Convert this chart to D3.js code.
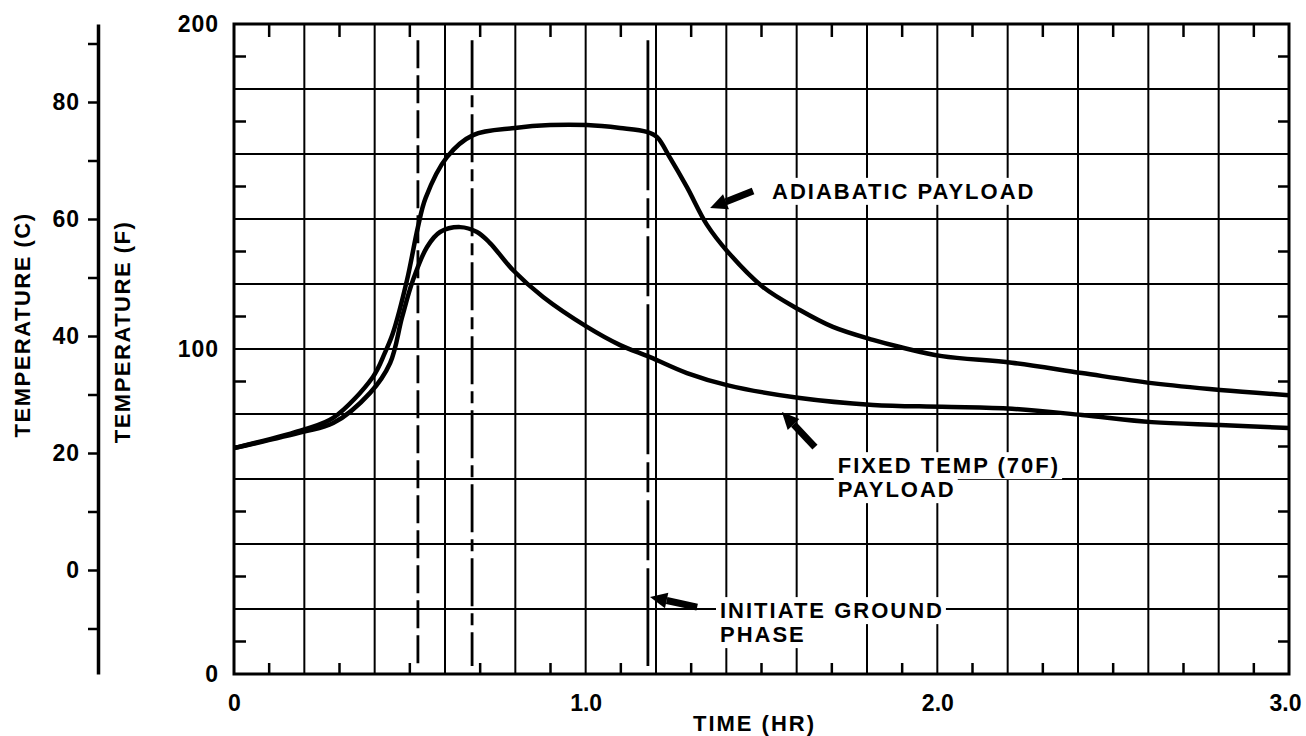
<!DOCTYPE html>
<html>
<head>
<meta charset="utf-8">
<script src="https://cdn.jsdelivr.net/npm/d3@7"></script>
<style>
  body { margin: 0; background: #fff; }
  text { font-family: "Liberation Sans", Arial, sans-serif; font-weight: bold; fill: #000; }
</style>
</head>
<body>
<svg id="chart" width="1306" height="736"></svg>
<script>
// time in hours, temperature in F
const adiabaticTime = [0, 0.2, 0.282, 0.395, 0.429, 0.452, 0.492, 0.523, 0.545, 0.606, 0.68, 0.799, 0.899, 1.004, 1.098, 1.174, 1.203, 1.24, 1.288, 1.345, 1.405, 1.504, 1.609, 1.703, 1.817, 1.894, 2.013, 2.212, 2.411, 2.61, 2.804, 3.0];
const adiabaticTemp = [69.5, 75.3, 78.8, 91.4, 98.8, 104.9, 121.2, 137.5, 146.5, 159.1, 165.8, 168.0, 168.9, 168.9, 168.0, 166.8, 165.2, 158.8, 149.8, 138.2, 129.8, 119.1, 112.0, 106.8, 102.8, 100.6, 97.8, 95.8, 92.6, 89.5, 87.4, 85.8];

const fixedTime = [0, 0.196, 0.282, 0.387, 0.444, 0.478, 0.509, 0.549, 0.586, 0.643, 0.691, 0.728, 0.793, 0.879, 1.004, 1.098, 1.183, 1.288, 1.402, 1.609, 1.817, 2.013, 2.212, 2.411, 2.61, 2.804, 3.0];
const fixedTemp = [69.5, 74.5, 77.2, 86.5, 95.7, 109.8, 121.2, 131.4, 136.0, 137.5, 136.0, 132.6, 124.3, 116.0, 106.8, 101.2, 97.5, 92.6, 88.9, 84.9, 82.8, 82.2, 81.6, 79.7, 77.5, 76.6, 75.7];

// phase markers (hr)
const eventTimes = [0.523, 0.677, 1.177];

const xTickValues = [0, 1, 2, 3];
const xTickLabels = ["0", "1.0", "2.0", "3.0"];
const fTickValues = [0, 100, 200];
const cTickValues = [0, 20, 40, 60, 80];

const svg = d3.select("#chart");
const x = d3.scaleLinear().domain([0, 3]).range([234, 1289]);
const y = d3.scaleLinear().domain([0, 200]).range([674, 24]);
const toC = f => (f - 32) * 5 / 9;
const yc = d3.scaleLinear().domain([toC(0), toC(200)]).range([674, 24]);

// grid
const grid = svg.append("g").attr("stroke", "#000").attr("stroke-width", 2);
grid.selectAll(".vg").data(d3.range(1, 15).map(i => i * 0.2)).join("line")
  .attr("x1", d => x(d)).attr("x2", d => x(d))
  .attr("y1", y(200)).attr("y2", y(0));
grid.selectAll(".hg").data(d3.range(1, 10).map(i => i * 20)).join("line")
  .attr("y1", d => y(d)).attr("y2", d => y(d))
  .attr("x1", x(0)).attr("x2", x(3));

// minor ticks on the frame edges
const halfHours = d3.range(0, 15).map(i => i * 0.2 + 0.1);
const halfTemps = d3.range(0, 10).map(i => i * 20 + 10);
const minor = svg.append("g").attr("stroke", "#000").attr("stroke-width", 2.5);
halfHours.forEach(t => {
  minor.append("line").attr("x1", x(t)).attr("x2", x(t)).attr("y1", y(200)).attr("y2", y(200) + 13);
  minor.append("line").attr("x1", x(t)).attr("x2", x(t)).attr("y1", y(0)).attr("y2", y(0) - 11);
});
halfTemps.forEach(f => {
  minor.append("line").attr("y1", y(f)).attr("y2", y(f)).attr("x1", x(0)).attr("x2", x(0) + 12);
  minor.append("line").attr("y1", y(f)).attr("y2", y(f)).attr("x1", x(3)).attr("x2", x(3) - 11);
});

// frame
svg.append("rect")
  .attr("x", x(0)).attr("y", y(200))
  .attr("width", x(3) - x(0)).attr("height", y(0) - y(200))
  .attr("fill", "none").attr("stroke", "#000").attr("stroke-width", 3);

// phase markers
const dashes = ["28,7", "48,7,12,7", "150,8,30,8,60,8"];
svg.append("g").selectAll("line").data(eventTimes).join("line")
  .attr("x1", d => x(d)).attr("x2", d => x(d))
  .attr("y1", y(195)).attr("y2", y(2.5))
  .attr("stroke", "#000").attr("stroke-width", 2.8)
  .attr("stroke-dasharray", (d, i) => dashes[i]);

// curves
const line = d3.line().x(d => x(d[0])).y(d => y(d[1])).curve(d3.curveCatmullRom.alpha(0.5));
[[adiabaticTime, adiabaticTemp], [fixedTime, fixedTemp]].forEach(([ts, vs]) => {
  svg.append("path")
    .datum(ts.map((t, i) => [t, vs[i]]))
    .attr("d", line)
    .attr("fill", "none").attr("stroke", "#000").attr("stroke-width", 4.5)
    .attr("stroke-linejoin", "round");
});

// annotations: text lines with a white knockout box, arrows tail->tip
const notes = [
  { lines: ["ADIABATIC PAYLOAD"], t: 1.53, f: 146.2, arrow: [[1.476, 148.6], [1.354, 143.4]] },
  { lines: ["FIXED TEMP (70F)", "PAYLOAD"], t: 1.717, f: 61.8, arrow: [[1.652, 69.8], [1.558, 80.6]] },
  { lines: ["INITIATE GROUND", "PHASE"], t: 1.382, f: 17.2, arrow: [[1.317, 20.6], [1.183, 23.7]] }
];
const ann = svg.append("g");
notes.forEach(n => {
  n.lines.forEach((s, i) => {
    const txt = ann.append("text")
      .attr("x", x(n.t)).attr("y", y(n.f) + i * 24)
      .attr("font-size", 22).attr("letter-spacing", 2)
      .text(s);
    const b = txt.node().getBBox();
    ann.insert("rect", () => txt.node())
      .attr("x", b.x - 4).attr("y", b.y - 1)
      .attr("width", b.width + 6).attr("height", b.height + 2)
      .attr("fill", "#fff");
  });
  const [tail, tip] = n.arrow.map(p => [x(p[0]), y(p[1])]);
  const ang = Math.atan2(tip[1] - tail[1], tip[0] - tail[0]);
  const hl = 17, hw = 8;
  const base = [tip[0] - hl * Math.cos(ang), tip[1] - hl * Math.sin(ang)];
  ann.append("line")
    .attr("x1", tail[0]).attr("y1", tail[1]).attr("x2", base[0]).attr("y2", base[1])
    .attr("stroke", "#000").attr("stroke-width", 7);
  const px = -Math.sin(ang) * hw, py = Math.cos(ang) * hw;
  ann.append("path")
    .attr("d", `M${tip[0]},${tip[1]}L${base[0] + px},${base[1] + py}L${base[0] - px},${base[1] - py}Z`)
    .attr("fill", "#000");
});

// axes
const fAxis = svg.append("g").attr("transform", `translate(${x(0)},0)`)
  .call(d3.axisLeft(y).tickValues(fTickValues).tickSize(0).tickPadding(15));
fAxis.select(".domain").remove();

const xAxis = svg.append("g").attr("transform", `translate(0,${y(0)})`)
  .call(d3.axisBottom(x).tickValues(xTickValues).tickSize(0).tickPadding(21)
    .tickFormat((d, i) => xTickLabels[i]));
xAxis.select(".domain").remove();

const cAxis = svg.append("g").attr("transform", "translate(98,0)")
  .call(d3.axisLeft(yc).tickValues(d3.range(-10, 91, 10)).tickSize(10).tickSizeOuter(0).tickPadding(8)
    .tickFormat(d => cTickValues.includes(d) ? d : ""));
cAxis.select(".domain").attr("stroke-width", 3.5);
cAxis.selectAll(".tick line").attr("stroke-width", 2.5);

svg.selectAll(".tick text")
  .attr("font-size", 23).attr("letter-spacing", 1)
  .attr("font-family", null).style("font-weight", "bold");
xAxis.selectAll(".tick text").attr("letter-spacing", 0);
xAxis.selectAll(".tick text").filter(d => d === 3).attr("dx", -4);

// titles
svg.append("text").attr("x", (x(0) + x(3)) / 2 - 7).attr("y", 731)
  .attr("text-anchor", "middle").attr("font-size", 22).attr("letter-spacing", 2)
  .text("TIME (HR)");
svg.append("text").attr("transform", "translate(30,325) rotate(-90)")
  .attr("text-anchor", "middle").attr("font-size", 22).attr("letter-spacing", 1.5)
  .text("TEMPERATURE (C)");
svg.append("text").attr("transform", "translate(130,332) rotate(-90)")
  .attr("text-anchor", "middle").attr("font-size", 22).attr("letter-spacing", 1.5)
  .text("TEMPERATURE (F)");
</script>
</body>
</html>
